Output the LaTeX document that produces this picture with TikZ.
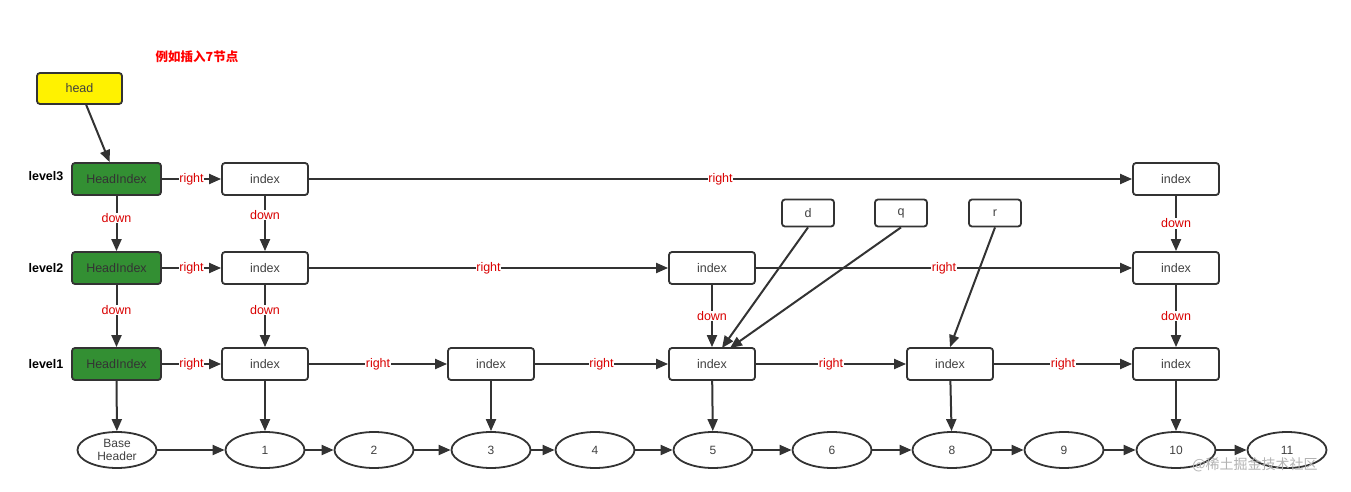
\documentclass[tikz,border=0pt]{standalone}
\usepackage{fontspec}
\setmainfont{Liberation Sans}
\newfontfamily\cjk{Noto Sans CJK SC}
\usetikzlibrary{arrows.meta,shapes.geometric}
\begin{document}
\begin{tikzpicture}[x=1pt,y=-1pt,font=\fontsize{12.5}{14}\selectfont,
 box/.style={draw=black!80,line width=1.8pt,rounded corners=3pt,minimum width=86pt,minimum height=32pt,text=black!75,inner sep=0},
 hbox/.style={box,fill=green!45!black!80,minimum width=89pt,text=black!80},
 sbox/.style={box,minimum width=52pt,minimum height=27pt},
 ell/.style={draw=black!80,line width=1.8pt,ellipse,minimum width=79pt,minimum height=36pt,inner sep=0,text=black!75,align=center,font=\fontsize{12}{12.5}\selectfont},
 ar/.style={-{Triangle[length=12pt,width=10pt]},draw=black!80,line width=2pt},
 lab/.style={fill=white,text=red!85!black,inner sep=0.5pt},
 lv/.style={font=\bfseries\fontsize{12.5}{14}\selectfont}]
\useasboundingbox (0,0) rectangle (1351,492);
\node[text=red,font=\cjk\bfseries\fontsize{12.5}{14}\selectfont] at (197,57) {例如插入7节点};
\node[box,fill=yellow,minimum width=85pt,minimum height=31pt] (head) at (79.5,88.5) {head};
\node[lv] at (46,176) {level3};
\node[lv] at (46,268) {level2};
\node[lv] at (46,364) {level1};
\node[hbox] (h3) at (116.5,179) {HeadIndex};
\node[hbox] (h2) at (116.5,268) {HeadIndex};
\node[hbox] (h1) at (116.5,364) {HeadIndex};
\node[box] (a3) at (265,179) {index};
\node[box] (e3) at (1176,179) {index};
\node[box] (a2) at (265,268) {index};
\node[box] (c2) at (712,268) {index};
\node[box] (e2) at (1176,268) {index};
\node[box] (a1) at (265,364) {index};
\node[box] (b1) at (491,364) {index};
\node[box] (c1) at (712,364) {index};
\node[box] (d1) at (950,364) {index};
\node[box] (e1) at (1176,364) {index};
\node[sbox] (d) at (808,213) {d};
\node[sbox] (q) at (901,213) {q};
\node[sbox] (r) at (995,213) {r};
\node[ell] (n0) at (117,450) {Base\\Header};
\foreach \n/\x in {1/265,2/374,3/491,4/595,5/713,6/832,8/952,9/1064,10/1176,11/1287}
  \node[ell] (n\n) at (\x,450) {\n};
\draw[ar] (head) -- (h3);
\draw[ar] (h3) -- node[lab]{right} (a3);
\draw[ar] (a3) -- node[lab]{right} (e3);
\draw[ar] (h2) -- node[lab]{right} (a2);
\draw[ar] (a2) -- node[lab]{right} (c2);
\draw[ar] (c2) -- node[lab,pos=0.5]{right} (e2);
\draw[ar] (h1) -- node[lab]{right} (a1);
\draw[ar] (a1) -- node[lab]{right} (b1);
\draw[ar] (b1) -- node[lab]{right} (c1);
\draw[ar] (c1) -- node[lab]{right} (d1);
\draw[ar] (d1) -- node[lab]{right} (e1);
\draw[ar] (h3) -- node[lab,pos=0.4]{down} (h2);
\draw[ar] (a3) -- node[lab,pos=0.35]{down} (a2);
\draw[ar] (e3) -- node[lab,pos=0.5]{down} (e2);
\draw[ar] (h2) -- node[lab,pos=0.4]{down} (h1);
\draw[ar] (a2) -- node[lab,pos=0.4]{down} (a1);
\draw[ar] (c2) -- node[lab,pos=0.5]{down} (c1);
\draw[ar] (e2) -- node[lab,pos=0.5]{down} (e1);
\coordinate (c1d) at (722,348);
\coordinate (c1q) at (730,348);
\draw[ar] (d.south) -- (c1d);
\draw[ar] (q.south) -- (c1q);
\draw[ar] (r.south) -- (d1.north);
\draw[ar] (h1) -- (n0);
\draw[ar] (a1) -- (n1);
\draw[ar] (b1) -- (n3);
\draw[ar] (c1) -- (n5);
\draw[ar] (d1) -- (n8);
\draw[ar] (e1) -- (n10);
\draw[ar] (n0) -- (n1);
\foreach \a/\b in {1/2,2/3,3/4,4/5,5/6,6/8,8/9,9/10,10/11}
  \draw[ar] (n\a) -- (n\b);
\node[text=black!30,font=\cjk\fontsize{14}{15}\selectfont] at (1255,465) {@稀土掘金技术社区};
\end{tikzpicture}
\end{document}
